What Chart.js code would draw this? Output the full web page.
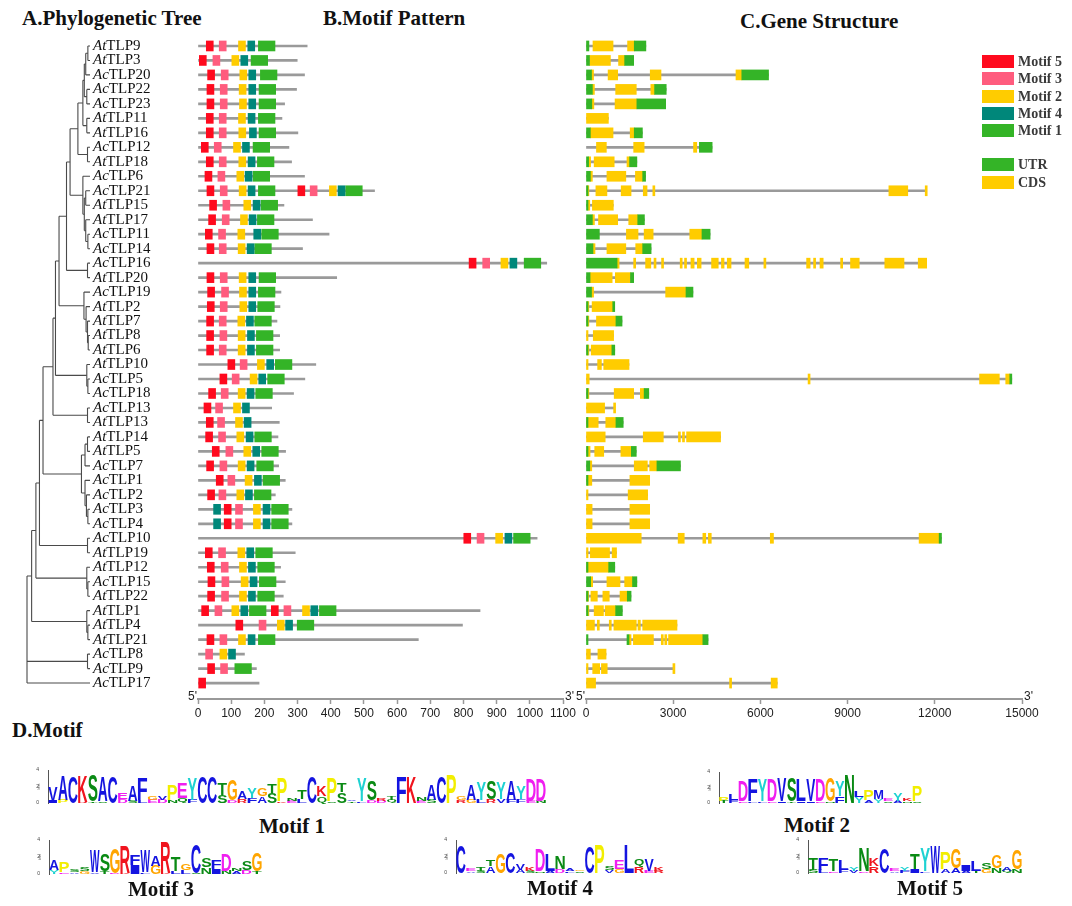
<!DOCTYPE html>
<html lang="en">
<head>
<meta charset="utf-8">
<title>TLP family: tree, motifs and gene structure</title>
<script src="https://cdn.jsdelivr.net/npm/chart.js@4.4.1/dist/chart.umd.min.js"></script>
<style>
  html, body { margin: 0; padding: 0; background: #fff; }
  #page { position: relative; width: 1072px; height: 906px; overflow: hidden;
          font-family: "Liberation Serif", "Times New Roman", serif; color: #111; }
  #page canvas { position: absolute; }
  .ttl { position: absolute; font-weight: bold; font-size: 21px; line-height: 22px; white-space: nowrap; }
  .mlab { position: absolute; font-weight: bold; font-size: 21px; line-height: 22px; white-space: nowrap; transform: translateX(-50%); }
  .lg { position: absolute; left: 982px; height: 18px; line-height: 18px; font-weight: bold; font-size: 14px; color: #3a3a3a; white-space: nowrap; }
  .lg span { display: inline-block; width: 32px; height: 13px; vertical-align: -2px; margin-right: 4px; }
</style>
</head>
<body>
<div id="page">
  <div class="ttl" style="left:22px;top:7px">A.Phylogenetic Tree</div>
  <div class="ttl" style="left:323px;top:7px">B.Motif Pattern</div>
  <div class="ttl" style="left:740px;top:10px">C.Gene Structure</div>
  <div class="ttl" style="left:12px;top:719px">D.Motif</div>
  <canvas id="tree" width="200" height="730" style="left:0;top:0"></canvas>
  <canvas id="motifs" width="410" height="730" style="left:170px;top:0"></canvas>
  <canvas id="genes" width="502" height="730" style="left:570px;top:0"></canvas>
</div>
<script>
// rows, top to bottom, in tree order
const genes = ['AtTLP9','AtTLP3','AcTLP20','AcTLP22','AcTLP23','AtTLP11','AtTLP16','AcTLP12','AtTLP18','AcTLP6',
  'AcTLP21','AtTLP15','AtTLP17','AcTLP11','AcTLP14','AcTLP16','AtTLP20','AcTLP19','AtTLP2','AtTLP7',
  'AtTLP8','AtTLP6','AtTLP10','AcTLP5','AcTLP18','AcTLP13','AtTLP13','AtTLP14','AtTLP5','AcTLP7',
  'AcTLP1','AcTLP2','AcTLP3','AcTLP4','AcTLP10','AtTLP19','AtTLP12','AcTLP15','AtTLP22','AtTLP1',
  'AtTLP4','AtTLP21','AcTLP8','AcTLP9','AcTLP17'];

// protein length (aa)
const proteinLen = [329,299,321,297,261,253,301,274,282,321,
  532,259,345,395,315,1051,418,250,247,238,
  246,246,355,322,288,222,245,241,264,243,
  263,233,283,283,1022,293,249,263,257,850,
  797,664,140,176,184];

// motif start positions (aa) per gene
const motif5Start = [[25],[4],[29],[27],[27],[25],[25],[10],[25],[21],
  [27,301],[35],[32],[22],[27],[817],[27],[29],[28],[26],
  [26],[26],[90],[66],[32],[18],[25],[23],[43],[26],
  [55],[29],[79],[79],[801],[22],[28],[30],[29],[11,221],
  [114],[27],[],[29],[2]];
const motif3Start = [[64],[45],[70],[67],[67],[64],[64],[49],[64],[60],
  [67,338],[75],[73],[62],[64],[858],[67],[71],[67],[64],
  [66],[64],[127],[103],[70],[53],[59],[62],[84],[66],
  [90],[63],[113],[113],[841],[62],[70],[72],[71],[51,259],
  [184],[66],[23],[68],[]];
const motif2Start = [[122],[102],[126],[124],[125],[122],[123],[107],[123],[117],
  [124,396],[138],[128],[120],[121],[913],[124],[125],[126],[120],
  [121],[121],[179],[157],[121],[107],[113],[117],[138],[121],
  [142],[117],[167],[167],[897],[120],[125],[130],[125],[102,315],
  [239],[122],[66],[],[]];
const motif4Start = [[150],[129],[153],[153],[153],[151],[155],[134],[151],[142],
  [151,422],[166],[154],[168],[148],[940],[153],[153],[153],[146],
  [149],[149],[207],[183],[148],[134],[139],[145],[165],[148],
  [170],[143],[47,196],[47,196],[925],[147],[152],[157],[152],[129,340],
  [264],[151],[92],[],[]];
const motif1Start = [[182],[160],[188],[184],[184],[182],[184],[166],[179],[166],
  [182,445],[190],[179],[192],[171],[983],[184],[182],[180],[171],
  [176],[176],[233],[210],[174],[],[],[171],[192],[177],
  [196],[170],[222],[222],[951],[174],[180],[185],[180],[155,366],
  [299],[182],[],[111],[]];

const motifNames  = ['Motif 5','Motif 3','Motif 2','Motif 4','Motif 1'];
const motifColors = ['#FF0A1E','#FF5C7E','#FFCC00','#00877A','#34B427'];
const motifWidth  = [21,21,21,21,50];
const motifStarts = [motif5Start, motif3Start, motif2Start, motif4Start, motif1Start];

// gene structure segments (bp)
const utrSegs = [
  [[0,100],[1660,2060]], [[0,120],[1330,1640]], [[0,190],[5360,6280]], [[0,220],[2360,2760]], [[0,200],[1750,2740]],
  [], [[0,150],[1660,1940]], [[3900,4340]], [[0,90],[1500,1750]], [[0,150],[1950,2050]],
  [[0,30]], [[0,60]], [[0,220],[1780,2010]], [[0,460],[3990,4270]], [[0,240],[1950,2240]],
  [[0,1070]], [[0,140],[1530,1640]], [[0,190],[3440,3680]], [[0,30],[920,960]], [[0,30],[1030,1240]],
  [], [[0,30],[890,990]], [], [[14580,14650]], [[0,30],[2000,2160]],
  [], [[0,20],[1030,1280]], [], [[0,30],[1560,1730]], [[0,130],[2440,3250]],
  [[0,30]], [], [], [], [[12150,12230]],
  [], [[0,20],[780,990]], [[0,160],[1600,1750]], [[0,20],[1420,1550]], [[0,30],[1020,1250]],
  [], [[0,20],[1410,1480],[4020,4200]], [], [], []
];
const cdsSegs = [
  [[240,930],[1430,1660]],
  [[120,840],[1120,1330]],
  [[190,240],[760,1090],[2210,2580],[5160,5360]],
  [[220,270],[1020,1730],[2230,2360]],
  [[200,270],[1000,1750]],
  [[0,770]],
  [[150,930],[1520,1660]],
  [[360,700],[1640,2000],[3700,3810]],
  [[90,150],[280,970],[1410,1500]],
  [[150,210],[720,1370],[1700,1950]],
  [[30,60],[340,720],[1210,1550],[1970,2100],[2300,2330],[10420,11070],[11670,11720]],
  [[60,110],[220,940]],
  [[220,290],[430,1090],[1470,1780]],
  [[1390,1790],[2000,2310],[3570,3990]],
  [[240,310],[720,1370],[1710,1950]],
  [[1070,1130],[1640,1680],[2050,2230],[2340,2380],[2600,2640],[3240,3290],[3390,3430],[3610,3720],
   [3830,3960],[4320,4550],[4660,4750],[4860,4990],[5470,5600],[6120,6160],[7590,7710],[7830,7900],
   [8050,8160],[8760,8830],[9100,9400],[10280,10940],[11430,11720]],
  [[140,900],[1010,1530]],
  [[190,260],[2740,3440]],
  [[30,90],[210,920]],
  [[30,90],[360,1030]],
  [[0,40],[250,950]],
  [[30,90],[180,890]],
  [[0,70],[400,530],[610,1480]],
  [[0,110],[7640,7690],[13540,14220],[14440,14580]],
  [[30,90],[970,1640],[1870,2000]],
  [[0,640],[950,990]],
  [[20,420],[680,1030]],
  [[0,660],[1970,2660],[3180,3230],[3320,3370],[3460,4630]],
  [[30,140],[300,610],[1200,1560]],
  [[130,170],[1660,2110],[2190,2440]],
  [[30,200],[1510,2190]],
  [[0,40],[1450,2120]],
  [[0,210],[1510,2190]],
  [[0,210],[1510,2190]],
  [[0,1900],[3170,3380],[4020,4120],[4210,4310],[6340,6450],[11460,12150]],
  [[0,50],[150,810],[900,1050]],
  [[20,780]],
  [[160,220],[720,1170],[1330,1600]],
  [[20,80],[170,390],[580,800],[1170,1420]],
  [[30,90],[280,600],[660,1020]],
  [[0,290],[390,450],[800,870],[960,1730],[1790,1870],[1950,3130]],
  [[1480,1530],[1630,2320],[2590,2620],[2710,2750],[2840,4020]],
  [[0,150],[410,690]],
  [[0,50],[230,470],[530,730],[2990,3020]],
  [[0,330],[4940,4970],[6370,6580]]
];
const structNames  = ['UTR','CDS'];
const structColors = ['#34B427','#FFCC00'];

// tree: [node depth, children...]; tips are gene names
const tipDepth = 177;
const cladeA = [143, [157, [161, [165, [171,'AtTLP9','AtTLP3'], 'AcTLP20'], [168,'AcTLP22','AcTLP23']],
                      [168,'AtTLP11','AtTLP16']],
                     [170,'AcTLP12','AtTLP18']];
const cladeB = [157, 'AcTLP6', [161, [165,'AcTLP21','AtTLP15'], [165,'AtTLP17',[171,'AcTLP11','AcTLP14']]]];
const cladeC = [153, [163, [170,'AtTLP14','AtTLP5'], 'AcTLP7'], [163,'AcTLP1',[167,'AcTLP2',[171,'AcTLP3','AcTLP4']]]];
const tree = [0,
  [13,
    [25,
      [35,
        [45,
          [73,
            [80,
              [90,
                [111, [121, cladeA, cladeB], [170,'AcTLP16','AtTLP20']],
                [160,'AcTLP19',[166,'AtTLP2',[170,'AtTLP7',[172,'AtTLP8','AtTLP6']]]]],
              [168,'AtTLP10',[171,'AcTLP5','AcTLP18']]],
            [170,'AcTLP13','AtTLP13']],
          cladeC],
        [170,'AcTLP10','AtTLP19']],
      [168,'AtTLP12',[171,'AcTLP15','AtTLP22']]],
    [168,'AtTLP1',[171,'AtTLP4','AtTLP21']]],
  [170,'AcTLP8','AcTLP9'],
  'AcTLP17'];

// sequence logos: main letter, its height (bits), letter below it and its height
const logo1Seq  = 'VACKSACEAFGVPEYCCTGAYGTPNTCKPTVYSRTFKNACPGAYSYAYDD';
const logo1H    = [1.7,2.9,3.2,3.2,3.2,3.0,3.2,0.7,1.9,2.6, 0.5,0.5,1.8,1.8,2.6,3.2,3.2,1.4,2.6,0.9,
                   1.2,0.9,1.1,2.8,0.3,1.1,3.2,1.3,2.8,1.1, 0.2,2.8,2.4,0.3,0.5,3.2,3.2,0.4,1.8,3.2,
                   3.5,0.4,1.8,2.2,2.2,2.0,2.4,1.5,2.6,2.6];
const logo1Sub  = 'IP-RTS-DSLEDNQF--SDRFASKEL-QSSTFDDQ--ES--RGLRVFFEN';
const logo1SubH = [.3,.4,0,.1,.2,.2,0,.5,.3,.3, .4,.4,.3,.6,.4,0,0,1.0,.3,.5,
                   .6,.8,1.2,.2,.3,.5,0,.8,.2,1.3, .2,.2,.3,.3,.4,0,0,.3,.4,0,
                   0,.3,.4,.4,.5,.5,.4,.5,.3,.3];
const logo2Seq  = 'PLDFYDVSLVDGYNLPMEYKP';
const logo2H    = [.5,.8,2.6,2.8,2.8,2.8,3.0,3.0,2.8,2.8, 2.8,3.0,2.0,3.6,.8,1.4,1.2,.3,1.0,.3, 2.0];
const logo2Sub  = 'TFELFEITIIENF-YAYSANS';
const logo2SubH = [.3,.4,.2,.2,.2,.2,.2,.2,.2,.2, .2,.2,.9,0,.8,.4,.5,.2,.3,.2, .2];
const logo3Seq  = 'APSSWSGRFWARTGCSFDNSG';
const logo3H    = [1.2,1.2,.3,.5,2.6,2.0,3.0,3.2,1.2,2.6, 1.2,3.6,1.6,.8,3.4,1.0,1.0,2.0,.3,1.0, 2.2];
const logo3Sub  = 'YEAGVTDKIFGKLLSNINADT';
const logo3SubH = [.5,.2,.2,.3,.2,.3,.1,.1,1.0,.2, 1.0,.1,.3,.5,.1,.8,.6,.4,.3,.5, .3];
const logo4Seq  = 'CETTGCVKDLNAGCPSELQVK';
const logo4H    = [3.4,.3,.4,.8,2.4,2.6,.8,.4,2.6,2.0, 1.6,.3,.2,3.2,3.4,.4,1.0,3.4,.9,1.4, .4];
const logo4Sub  = '-ASA--ASNADLS--VG-RER';
const logo4SubH = [0,.2,.3,.8,0,0,.4,.3,.2,.3, .5,.2,.2,0,0,.3,.5,0,.8,.3, .3];
const logo5Seq  = 'TFTLYNKCEYTYWPGILSGAG';
const logo5H    = [1.4,1.4,1.4,1.2,.4,2.8,1.0,3.0,.3,.4, 1.8,2.8,3.2,2.0,2.4,.8,1.2,.8,1.6,.4, 2.4];
const logo5Sub  = 'SLEFVDR-AFIL-AAATGNQN';
const logo5SubH = [.4,.4,.2,.4,.3,.2,.8,0,.2,.3, .5,.2,0,.4,.6,.3,.3,.5,.6,.3, .4];

Chart.defaults.font.family = '"Liberation Sans", Arial, sans-serif';
Chart.defaults.animation = false;

const page = document.getElementById('page');
function rowScale() {
  return { type: 'linear', min: -0.55, max: 45.1, reverse: true, offset: false, display: false };
}
const quiet = { legend: { display: false }, tooltip: { enabled: false } };

// A. tree with labels
function walk(node, ctx, xs, ys) {
  if (typeof node === 'string') return { d: tipDepth, y: genes.indexOf(node) };
  const kids = node.slice(1).map(k => walk(k, ctx, xs, ys));
  const px = xs.getPixelForValue(node[0]);
  const first = kids[0], last = kids[kids.length - 1];
  ctx.beginPath();
  kids.forEach(k => {
    ctx.moveTo(px, ys.getPixelForValue(k.y));
    ctx.lineTo(xs.getPixelForValue(k.d), ys.getPixelForValue(k.y));
  });
  ctx.moveTo(px, ys.getPixelForValue(first.y));
  ctx.lineTo(px, ys.getPixelForValue(last.y));
  ctx.stroke();
  return { d: node[0], y: (first.y + last.y) / 2 };
}
const treePlugin = {
  id: 'treeDraw',
  afterDraw(c) {
    const ctx = c.ctx, xs = c.scales.x, ys = c.scales.y;
    ctx.save();
    ctx.strokeStyle = '#4a4a4a';
    ctx.lineWidth = 1.1;
    walk(tree, ctx, xs, ys);
    ctx.fillStyle = '#111';
    ctx.textBaseline = 'middle';
    const x0 = xs.getPixelForValue(tipDepth) + 3;
    genes.forEach((g, i) => {
      const y = ys.getPixelForValue(i);
      ctx.font = 'italic 15px "Liberation Serif", serif';
      ctx.fillText(g.slice(0, 2), x0, y);
      const w = ctx.measureText(g.slice(0, 2)).width;
      ctx.font = '15px "Liberation Serif", serif';
      ctx.fillText(g.slice(2), x0 + w, y);
    });
    ctx.restore();
  }
};
new Chart(document.getElementById('tree'), {
  type: 'scatter',
  data: { datasets: [{ data: [] }] },
  options: {
    responsive: false, events: [],
    layout: { padding: { left: 27, right: 110, top: 38, bottom: 31 } },
    plugins: quiet,
    scales: { x: { type: 'linear', min: 0, max: tipDepth, display: false }, y: rowScale() }
  },
  plugins: [treePlugin]
});

// 5' / 3' marks at the ends of an axis
const endLabels = {
  id: 'endLabels',
  afterDraw(c) {
    const a = c.chartArea, ctx = c.ctx, y = c.scales.x.top - 2;
    ctx.save();
    ctx.font = '12px "Liberation Sans", Arial, sans-serif';
    ctx.fillStyle = '#222';
    ctx.textBaseline = 'middle';
    ctx.textAlign = 'right';
    ctx.fillText("5'", a.left - 1, y);
    ctx.textAlign = 'left';
    ctx.fillText("3'", a.right + 2, y);
    ctx.restore();
  }
};
function xAxis(max, step) {
  return {
    type: 'linear', min: 0, max: max,
    ticks: { stepSize: step, color: '#222', font: { size: 12 }, padding: 2, maxRotation: 0,
             callback: v => String(v) },
    grid: { drawOnChartArea: false, color: '#999', tickLength: 5, tickWidth: 1.5 },
    border: { color: '#999', width: 2 },
    afterFit(s) { s.height = 24; }
  };
}
function lineSet(lengths) {
  return {
    data: lengths.map((len, i) => ({ x: [0, len], y: i })),
    backgroundColor: '#9a9a9a', maxBarThickness: 2, grouped: false,
    barPercentage: 1, categoryPercentage: 1, order: 10
  };
}
function boxSet(points, color) {
  return {
    data: points, backgroundColor: color, maxBarThickness: 10, grouped: false,
    barPercentage: 1, categoryPercentage: 1, minBarLength: 2, order: 0
  };
}

// B. motif pattern
const motifSets = motifStarts.map((starts, m) => {
  const pts = [];
  starts.forEach((arr, i) => arr.forEach(s => pts.push({ x: [s, s + motifWidth[m]], y: i })));
  return boxSet(pts, motifColors[m]);
});
new Chart(document.getElementById('motifs'), {
  type: 'bar',
  data: { datasets: [lineSet(proteinLen), ...motifSets] },
  options: {
    indexAxis: 'y', responsive: false, events: [],
    layout: { padding: { left: 28, right: 17, top: 38, bottom: 7 } },
    plugins: quiet,
    scales: { x: xAxis(1100, 100), y: rowScale() }
  },
  plugins: [endLabels]
});

// C. gene structure
const geneLen = genes.map((g, i) => Math.max(...utrSegs[i].concat(cdsSegs[i]).map(s => s[1])));
const structSets = [utrSegs, cdsSegs].map((segs, k) => {
  const pts = [];
  segs.forEach((arr, i) => arr.forEach(s => pts.push({ x: [s[0], s[1]], y: i })));
  return boxSet(pts, structColors[k]);
});
new Chart(document.getElementById('genes'), {
  type: 'bar',
  data: { datasets: [lineSet(geneLen), ...structSets] },
  options: {
    indexAxis: 'y', responsive: false, events: [],
    layout: { padding: { left: 16, right: 50, top: 38, bottom: 7 } },
    plugins: quiet,
    scales: { x: xAxis(15000, 3000), y: rowScale() }
  },
  plugins: [endLabels]
});

// legend
function legendRow(name, color, top) {
  const d = document.createElement('div');
  d.className = 'lg';
  d.style.top = top + 'px';
  d.innerHTML = '<span style="background:' + color + '"></span>' + name;
  page.appendChild(d);
}
motifNames.forEach((n, i) => legendRow(n, motifColors[i], 53 + i * 17.3));
structNames.forEach((n, i) => legendRow(n, structColors[i], 156 + i * 17.5));

// D. sequence logos
function aaColor(ch) {
  if ('ACFILMVW'.includes(ch)) return '#1414E0';
  if ('NQST'.includes(ch)) return '#0A8A14';
  if ('DE'.includes(ch)) return '#F01EF0';
  if ('KR'.includes(ch)) return '#F0141E';
  if (ch === 'G') return '#FFA500';
  if (ch === 'P') return '#F2EE00';
  if (ch === 'Y') return '#1ED2D2';
  if (ch === 'H') return '#FFB0B0';
  return '#666';
}
function glyph(ctx, ch, x, yTop, w, h) {
  if (h < 0.5 || w <= 0) return;
  ctx.save();
  ctx.font = 'bold 100px "Liberation Sans", Arial, sans-serif';
  const m = ctx.measureText(ch);
  const gw = m.actualBoundingBoxLeft + m.actualBoundingBoxRight;
  const gh = m.actualBoundingBoxAscent + m.actualBoundingBoxDescent;
  ctx.translate(x, yTop);
  ctx.scale(w / gw, h / gh);
  ctx.fillStyle = aaColor(ch);
  ctx.textAlign = 'left';
  ctx.textBaseline = 'alphabetic';
  ctx.fillText(ch, m.actualBoundingBoxLeft, m.actualBoundingBoxAscent);
  ctx.restore();
}
function makeLogo(seq, hgt, sub, subH, area, label, lx, ly) {
  const cv = document.createElement('canvas');
  cv.width = area.r - area.l + 22;
  cv.height = area.b - area.t + 16;
  cv.style.left = (area.l - 16) + 'px';
  cv.style.top = (area.t - 6) + 'px';
  page.appendChild(cv);
  new Chart(cv, {
    type: 'bar',
    data: {
      labels: seq.split('').map((_, i) => String(i + 1)),
      datasets: [{ data: hgt.map((h, i) => h + subH[i]), backgroundColor: 'rgba(0,0,0,0)',
                   barPercentage: 1, categoryPercentage: 0.94 }]
    },
    options: {
      responsive: false, events: [],
      layout: { padding: { left: 4, right: 6, top: 6, bottom: 2 } },
      plugins: quiet,
      scales: {
        x: { grid: { display: false }, border: { display: false },
             ticks: { font: { size: 4 }, color: '#444', maxRotation: 90, minRotation: 90, autoSkip: false, padding: 1 },
             afterFit(s) { s.height = 8; } },
        y: { min: 0, max: 4, grid: { display: false }, border: { display: true, color: '#555', width: 1 },
             ticks: { stepSize: 1, font: { size: 5 }, color: '#444', padding: 1 },
             title: { display: true, text: 'bits', font: { size: 4 }, padding: 0 },
             afterFit(s) { s.width = 12; } }
      }
    },
    plugins: [{
      id: 'letters',
      afterDatasetsDraw(c) {
        const ctx = c.ctx, ys = c.scales.y;
        c.getDatasetMeta(0).data.forEach((bar, i) => {
          const w = bar.width, x0 = bar.x - w / 2;
          const y0 = ys.getPixelForValue(0);
          const ySub = ys.getPixelForValue(subH[i]);
          const yTop = ys.getPixelForValue(subH[i] + hgt[i]);
          if (sub[i] !== '-') glyph(ctx, sub[i], x0, ySub, w, y0 - ySub);
          glyph(ctx, seq[i], x0, yTop, w, ySub - yTop);
        });
      }
    }]
  });
  const d = document.createElement('div');
  d.className = 'mlab';
  d.style.left = lx + 'px';
  d.style.top = (ly - 11) + 'px';
  d.textContent = label;
  page.appendChild(d);
}
makeLogo(logo1Seq, logo1H, logo1Sub, logo1SubH, { l: 48, r: 546, t: 770, b: 803 }, 'Motif 1', 292, 826);
makeLogo(logo2Seq, logo2H, logo2Sub, logo2SubH, { l: 719, r: 922, t: 772, b: 803 }, 'Motif 2', 817, 825);
makeLogo(logo3Seq, logo3H, logo3Sub, logo3SubH, { l: 49, r: 262, t: 840, b: 874 }, 'Motif 3', 161, 889);
makeLogo(logo4Seq, logo4H, logo4Sub, logo4SubH, { l: 456, r: 664, t: 840, b: 873 }, 'Motif 4', 560, 888);
makeLogo(logo5Seq, logo5H, logo5Sub, logo5SubH, { l: 808, r: 1022, t: 840, b: 873 }, 'Motif 5', 930, 888);
</script>
</body>
</html>
